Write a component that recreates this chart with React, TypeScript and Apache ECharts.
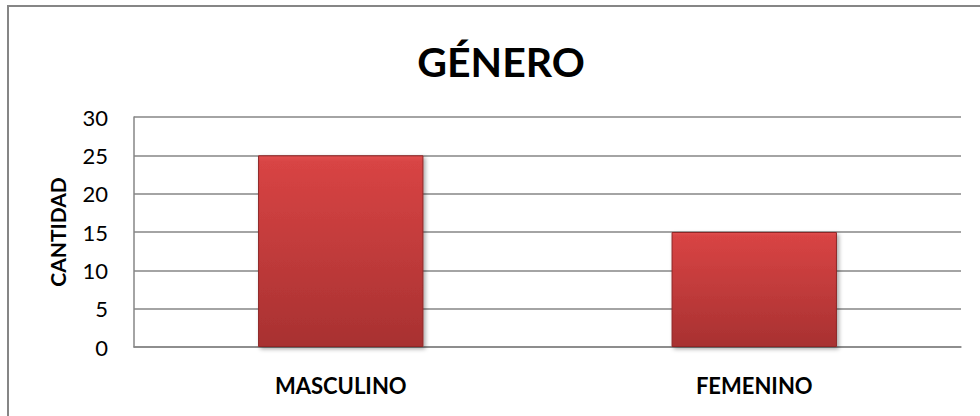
import React, { useEffect, useRef } from "react";
import * as echarts from "echarts";

const title = "GÉNERO";
const yAxisName = "CANTIDAD";
const categories = ["MASCULINO", "FEMENINO"];
const values = [25, 15];
const yMin = 0;
const yMax = 30;
const yInterval = 5;

export default function App() {
  const ref = useRef<HTMLDivElement>(null);
  useEffect(() => {
    if (!ref.current) return;
    const chart = echarts.init(ref.current, null, { renderer: "svg" });
    const font = "Lato, 'Open Sans', sans-serif";
    chart.setOption({
      animation: false,
      backgroundColor: "#ffffff",
      title: {
        text: title,
        left: 496,
        top: 36,
        textAlign: "center",
        textStyle: { fontFamily: font, fontWeight: "bold", fontSize: 41, color: "#000" },
      },
      graphic: [
        {
          type: "rect",
          shape: { x: 8, y: 6, width: 990, height: 430 },
          style: { fill: "none", stroke: "#868686", lineWidth: 2 },
          silent: true,
        },
      ],
      grid: { left: 134, right: 19, top: 117, bottom: 69 },
      xAxis: {
        type: "category",
        data: categories,
        axisLine: { show: true, lineStyle: { color: "#868686", width: 1.5 } },
        axisTick: { show: false },
        axisLabel: {
          fontFamily: font,
          fontWeight: "bold",
          fontSize: 22,
          color: "#000",
          margin: 27,
        },
      },
      yAxis: {
        type: "value",
        min: yMin,
        max: yMax,
        interval: yInterval,
        name: yAxisName,
        nameLocation: "middle",
        nameGap: 66,
        nameRotate: 90,
        nameTextStyle: { fontFamily: font, fontWeight: "bold", fontSize: 21, color: "#000" },
        axisLine: { show: true, lineStyle: { color: "#868686", width: 1.5 } },
        axisTick: { show: false },
        splitLine: { show: true, lineStyle: { color: "#868686", width: 1.5 } },
        axisLabel: { fontFamily: font, fontSize: 22, color: "#000", margin: 26 },
      },
      series: [
        {
          type: "bar",
          data: values,
          barCategoryGap: "60%",
          itemStyle: {
            color: new echarts.graphic.LinearGradient(0, 0, 0, 1, [
              { offset: 0, color: "#e25252" },
              { offset: 0.03, color: "#d84444" },
              { offset: 1, color: "#a83131" },
            ]),
            borderColor: "#8e2626",
            borderWidth: 1,
            shadowColor: "rgba(0,0,0,0.35)",
            shadowBlur: 4,
            shadowOffsetX: 2,
            shadowOffsetY: 2,
          },
        },
      ],
    });
    return () => chart.dispose();
  }, []);
  return (
    <div
      ref={ref}
      style={{ position: "fixed", left: 0, top: 0, width: 980, height: 416 }}
    />
  );
}
